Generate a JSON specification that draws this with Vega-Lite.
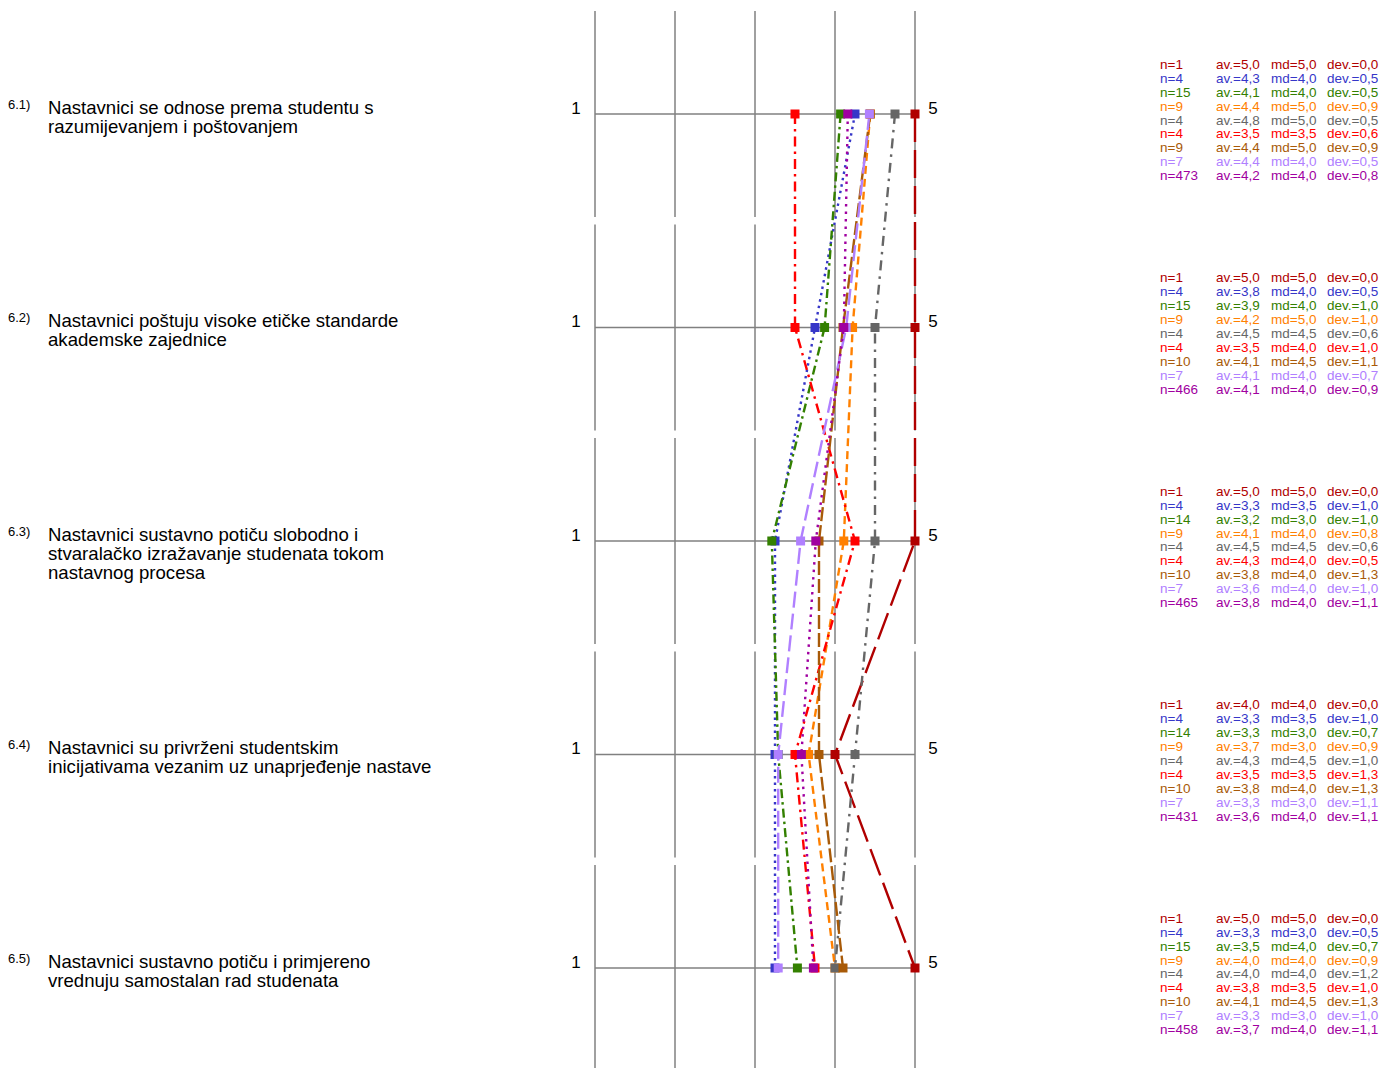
{
  "$schema": "https://vega.github.io/schema/vega-lite/v6.json",
  "width": 1383,
  "height": 1068,
  "autosize": {"type": "none"},
  "padding": 0,
  "background": "white",
  "config": {"view": {"stroke": null}, "font": "Liberation Sans"},
  "datasets": {
    "grid": [
      {"item": "6.1", "g": 1}, {"item": "6.1", "g": 2}, {"item": "6.1", "g": 3}, {"item": "6.1", "g": 4}, {"item": "6.1", "g": 5},
      {"item": "6.2", "g": 1}, {"item": "6.2", "g": 2}, {"item": "6.2", "g": 3}, {"item": "6.2", "g": 4}, {"item": "6.2", "g": 5},
      {"item": "6.3", "g": 1}, {"item": "6.3", "g": 2}, {"item": "6.3", "g": 3}, {"item": "6.3", "g": 4}, {"item": "6.3", "g": 5},
      {"item": "6.4", "g": 1}, {"item": "6.4", "g": 2}, {"item": "6.4", "g": 3}, {"item": "6.4", "g": 4}, {"item": "6.4", "g": 5},
      {"item": "6.5", "g": 1}, {"item": "6.5", "g": 2}, {"item": "6.5", "g": 3}, {"item": "6.5", "g": 4}, {"item": "6.5", "g": 5}
    ],
    "questions": [
      {"item": "6.1", "code": "6.1)", "q": "Nastavnici se odnose prema studentu s\nrazumijevanjem i poštovanjem", "lo": "1", "hi": "5"},
      {"item": "6.2", "code": "6.2)", "q": "Nastavnici poštuju visoke etičke standarde\nakademske zajednice", "lo": "1", "hi": "5"},
      {"item": "6.3", "code": "6.3)", "q": "Nastavnici sustavno potiču slobodno i\nstvaralačko izražavanje studenata tokom\nnastavnog procesa", "lo": "1", "hi": "5"},
      {"item": "6.4", "code": "6.4)", "q": "Nastavnici su privrženi studentskim\ninicijativama vezanim uz unaprjeđenje nastave", "lo": "1", "hi": "5"},
      {"item": "6.5", "code": "6.5)", "q": "Nastavnici sustavno potiču i primjereno\nvrednuju samostalan rad studenata", "lo": "1", "hi": "5"}
    ],
    "main": [
      {"item": "6.1", "s": "s1", "mean": 5.0, "n": "n=1", "av": "av.=5,0", "md": "md=5,0", "dev": "dev.=0,0"},
      {"item": "6.1", "s": "s2", "mean": 4.25, "n": "n=4", "av": "av.=4,3", "md": "md=4,0", "dev": "dev.=0,5"},
      {"item": "6.1", "s": "s3", "mean": 4.07, "n": "n=15", "av": "av.=4,1", "md": "md=4,0", "dev": "dev.=0,5"},
      {"item": "6.1", "s": "s4", "mean": 4.44, "n": "n=9", "av": "av.=4,4", "md": "md=5,0", "dev": "dev.=0,9"},
      {"item": "6.1", "s": "s5", "mean": 4.75, "n": "n=4", "av": "av.=4,8", "md": "md=5,0", "dev": "dev.=0,5"},
      {"item": "6.1", "s": "s6", "mean": 3.5, "n": "n=4", "av": "av.=3,5", "md": "md=3,5", "dev": "dev.=0,6"},
      {"item": "6.1", "s": "s7", "mean": 4.44, "n": "n=9", "av": "av.=4,4", "md": "md=5,0", "dev": "dev.=0,9"},
      {"item": "6.1", "s": "s8", "mean": 4.43, "n": "n=7", "av": "av.=4,4", "md": "md=4,0", "dev": "dev.=0,5"},
      {"item": "6.1", "s": "s9", "mean": 4.16, "n": "n=473", "av": "av.=4,2", "md": "md=4,0", "dev": "dev.=0,8"},
      {"item": "6.2", "s": "s1", "mean": 5.0, "n": "n=1", "av": "av.=5,0", "md": "md=5,0", "dev": "dev.=0,0"},
      {"item": "6.2", "s": "s2", "mean": 3.75, "n": "n=4", "av": "av.=3,8", "md": "md=4,0", "dev": "dev.=0,5"},
      {"item": "6.2", "s": "s3", "mean": 3.87, "n": "n=15", "av": "av.=3,9", "md": "md=4,0", "dev": "dev.=1,0"},
      {"item": "6.2", "s": "s4", "mean": 4.22, "n": "n=9", "av": "av.=4,2", "md": "md=5,0", "dev": "dev.=1,0"},
      {"item": "6.2", "s": "s5", "mean": 4.5, "n": "n=4", "av": "av.=4,5", "md": "md=4,5", "dev": "dev.=0,6"},
      {"item": "6.2", "s": "s6", "mean": 3.5, "n": "n=4", "av": "av.=3,5", "md": "md=4,0", "dev": "dev.=1,0"},
      {"item": "6.2", "s": "s7", "mean": 4.1, "n": "n=10", "av": "av.=4,1", "md": "md=4,5", "dev": "dev.=1,1"},
      {"item": "6.2", "s": "s8", "mean": 4.14, "n": "n=7", "av": "av.=4,1", "md": "md=4,0", "dev": "dev.=0,7"},
      {"item": "6.2", "s": "s9", "mean": 4.11, "n": "n=466", "av": "av.=4,1", "md": "md=4,0", "dev": "dev.=0,9"},
      {"item": "6.3", "s": "s1", "mean": 5.0, "n": "n=1", "av": "av.=5,0", "md": "md=5,0", "dev": "dev.=0,0"},
      {"item": "6.3", "s": "s2", "mean": 3.25, "n": "n=4", "av": "av.=3,3", "md": "md=3,5", "dev": "dev.=1,0"},
      {"item": "6.3", "s": "s3", "mean": 3.21, "n": "n=14", "av": "av.=3,2", "md": "md=3,0", "dev": "dev.=1,0"},
      {"item": "6.3", "s": "s4", "mean": 4.11, "n": "n=9", "av": "av.=4,1", "md": "md=4,0", "dev": "dev.=0,8"},
      {"item": "6.3", "s": "s5", "mean": 4.5, "n": "n=4", "av": "av.=4,5", "md": "md=4,5", "dev": "dev.=0,6"},
      {"item": "6.3", "s": "s6", "mean": 4.25, "n": "n=4", "av": "av.=4,3", "md": "md=4,0", "dev": "dev.=0,5"},
      {"item": "6.3", "s": "s7", "mean": 3.8, "n": "n=10", "av": "av.=3,8", "md": "md=4,0", "dev": "dev.=1,3"},
      {"item": "6.3", "s": "s8", "mean": 3.57, "n": "n=7", "av": "av.=3,6", "md": "md=4,0", "dev": "dev.=1,0"},
      {"item": "6.3", "s": "s9", "mean": 3.76, "n": "n=465", "av": "av.=3,8", "md": "md=4,0", "dev": "dev.=1,1"},
      {"item": "6.4", "s": "s1", "mean": 4.0, "n": "n=1", "av": "av.=4,0", "md": "md=4,0", "dev": "dev.=0,0"},
      {"item": "6.4", "s": "s2", "mean": 3.25, "n": "n=4", "av": "av.=3,3", "md": "md=3,5", "dev": "dev.=1,0"},
      {"item": "6.4", "s": "s3", "mean": 3.29, "n": "n=14", "av": "av.=3,3", "md": "md=3,0", "dev": "dev.=0,7"},
      {"item": "6.4", "s": "s4", "mean": 3.67, "n": "n=9", "av": "av.=3,7", "md": "md=3,0", "dev": "dev.=0,9"},
      {"item": "6.4", "s": "s5", "mean": 4.25, "n": "n=4", "av": "av.=4,3", "md": "md=4,5", "dev": "dev.=1,0"},
      {"item": "6.4", "s": "s6", "mean": 3.5, "n": "n=4", "av": "av.=3,5", "md": "md=3,5", "dev": "dev.=1,3"},
      {"item": "6.4", "s": "s7", "mean": 3.8, "n": "n=10", "av": "av.=3,8", "md": "md=4,0", "dev": "dev.=1,3"},
      {"item": "6.4", "s": "s8", "mean": 3.29, "n": "n=7", "av": "av.=3,3", "md": "md=3,0", "dev": "dev.=1,1"},
      {"item": "6.4", "s": "s9", "mean": 3.58, "n": "n=431", "av": "av.=3,6", "md": "md=4,0", "dev": "dev.=1,1"},
      {"item": "6.5", "s": "s1", "mean": 5.0, "n": "n=1", "av": "av.=5,0", "md": "md=5,0", "dev": "dev.=0,0"},
      {"item": "6.5", "s": "s2", "mean": 3.25, "n": "n=4", "av": "av.=3,3", "md": "md=3,0", "dev": "dev.=0,5"},
      {"item": "6.5", "s": "s3", "mean": 3.53, "n": "n=15", "av": "av.=3,5", "md": "md=4,0", "dev": "dev.=0,7"},
      {"item": "6.5", "s": "s4", "mean": 4.0, "n": "n=9", "av": "av.=4,0", "md": "md=4,0", "dev": "dev.=0,9"},
      {"item": "6.5", "s": "s5", "mean": 4.0, "n": "n=4", "av": "av.=4,0", "md": "md=4,0", "dev": "dev.=1,2"},
      {"item": "6.5", "s": "s6", "mean": 3.75, "n": "n=4", "av": "av.=3,8", "md": "md=3,5", "dev": "dev.=1,0"},
      {"item": "6.5", "s": "s7", "mean": 4.1, "n": "n=10", "av": "av.=4,1", "md": "md=4,5", "dev": "dev.=1,3"},
      {"item": "6.5", "s": "s8", "mean": 3.29, "n": "n=7", "av": "av.=3,3", "md": "md=3,0", "dev": "dev.=1,0"},
      {"item": "6.5", "s": "s9", "mean": 3.73, "n": "n=458", "av": "av.=3,7", "md": "md=4,0", "dev": "dev.=1,1"}
    ]
  },
  "layer": [
    {
      "data": {"name": "grid"},
      "mark": {"type": "tick", "orient": "vertical", "size": 206, "thickness": 1.5, "color": "#808080", "opacity": 1},
      "encoding": {
        "x": {"field": "g", "type": "quantitative", "axis": null, "scale": {"domain": [1, 5], "range": [595, 915], "zero": false, "nice": false}},
        "y": {"field": "item", "type": "nominal", "axis": null, "scale": {"type": "band", "domain": ["6.1", "6.2", "6.3", "6.4", "6.5"], "range": [11.25, 1070.74], "paddingInner": 0.0375, "paddingOuter": 0}}
      }
    },
    {
      "data": {"name": "questions"},
      "mark": {"type": "rule", "color": "#808080", "strokeWidth": 1.5},
      "encoding": {
        "x": {"datum": 1, "type": "quantitative", "axis": null},
        "x2": {"datum": 5},
        "y": {"field": "item", "type": "nominal", "axis": null}
      }
    },
    {
      "data": {"name": "main"},
      "mark": {"type": "line", "strokeWidth": 2.4},
      "encoding": {
        "x": {"field": "mean", "type": "quantitative", "axis": null},
        "y": {"field": "item", "type": "nominal", "axis": null},
        "order": {"field": "item", "type": "ordinal"},
        "color": {"field": "s", "type": "nominal", "legend": null, "scale": {"domain": ["s1", "s2", "s3", "s4", "s5", "s6", "s7", "s8", "s9"], "range": ["#b00000", "#3636c8", "#338000", "#ff8000", "#666666", "#ff0000", "#a85a08", "#b080ff", "#a000a0"]}},
        "strokeDash": {"field": "s", "type": "nominal", "legend": null, "scale": {"domain": ["s1", "s2", "s3", "s4", "s5", "s6", "s7", "s8", "s9"], "range": [[28, 8], [2.5, 4], [9, 4, 2.5, 4], [8, 5], [10, 6, 2.5, 6], [10, 5, 2.5, 5], [14, 4], [16, 6], [2.5, 5]]}}
      }
    },
    {
      "data": {"name": "main"},
      "mark": {"type": "point", "shape": "square", "filled": true, "size": 81, "opacity": 1},
      "encoding": {
        "x": {"field": "mean", "type": "quantitative", "axis": null},
        "y": {"field": "item", "type": "nominal", "axis": null},
        "color": {"field": "s", "type": "nominal", "legend": null}
      }
    },
    {
      "data": {"name": "questions"},
      "mark": {"type": "text", "align": "left", "baseline": "alphabetic", "fontSize": 13, "dy": -5, "color": "#000000"},
      "encoding": {
        "x": {"datum": -6.3375, "type": "quantitative", "axis": null},
        "y": {"field": "item", "type": "nominal", "axis": null},
        "text": {"field": "code"}
      }
    },
    {
      "data": {"name": "questions"},
      "mark": {"type": "text", "align": "left", "baseline": "alphabetic", "fontSize": 18.6, "lineHeight": 19, "lineBreak": "\n", "dy": 0, "color": "#000000"},
      "encoding": {
        "x": {"datum": -5.8375, "type": "quantitative", "axis": null},
        "y": {"field": "item", "type": "nominal", "axis": null},
        "text": {"field": "q"}
      }
    },
    {
      "data": {"name": "questions"},
      "mark": {"type": "text", "align": "center", "baseline": "alphabetic", "fontSize": 17, "dx": -19, "dy": 0, "color": "#000000"},
      "encoding": {
        "x": {"datum": 1, "type": "quantitative", "axis": null},
        "y": {"field": "item", "type": "nominal", "axis": null},
        "text": {"field": "lo"}
      }
    },
    {
      "data": {"name": "questions"},
      "mark": {"type": "text", "align": "center", "baseline": "alphabetic", "fontSize": 17, "dx": 18, "dy": 0, "color": "#000000"},
      "encoding": {
        "x": {"datum": 5, "type": "quantitative", "axis": null},
        "y": {"field": "item", "type": "nominal", "axis": null},
        "text": {"field": "hi"}
      }
    },
    {
      "data": {"name": "main"},
      "mark": {"type": "text", "align": "left", "baseline": "middle", "fontSize": 13.5},
      "encoding": {
        "x": {"datum": 8.0625, "type": "quantitative", "axis": null},
        "y": {"field": "item", "type": "nominal", "axis": null},
        "yOffset": {"field": "s", "type": "nominal", "scale": {"type": "band", "range": [46.8, 171.7], "paddingInner": 0, "paddingOuter": 0}},
        "color": {"field": "s", "type": "nominal", "legend": null},
        "text": {"field": "n"}
      }
    },
    {
      "data": {"name": "main"},
      "mark": {"type": "text", "align": "left", "baseline": "middle", "fontSize": 13.5},
      "encoding": {
        "x": {"datum": 8.7625, "type": "quantitative", "axis": null},
        "y": {"field": "item", "type": "nominal", "axis": null},
        "yOffset": {"field": "s", "type": "nominal"},
        "color": {"field": "s", "type": "nominal", "legend": null},
        "text": {"field": "av"}
      }
    },
    {
      "data": {"name": "main"},
      "mark": {"type": "text", "align": "left", "baseline": "middle", "fontSize": 13.5},
      "encoding": {
        "x": {"datum": 9.45, "type": "quantitative", "axis": null},
        "y": {"field": "item", "type": "nominal", "axis": null},
        "yOffset": {"field": "s", "type": "nominal"},
        "color": {"field": "s", "type": "nominal", "legend": null},
        "text": {"field": "md"}
      }
    },
    {
      "data": {"name": "main"},
      "mark": {"type": "text", "align": "left", "baseline": "middle", "fontSize": 13.5},
      "encoding": {
        "x": {"datum": 10.15, "type": "quantitative", "axis": null},
        "y": {"field": "item", "type": "nominal", "axis": null},
        "yOffset": {"field": "s", "type": "nominal"},
        "color": {"field": "s", "type": "nominal", "legend": null},
        "text": {"field": "dev"}
      }
    }
  ]
}
